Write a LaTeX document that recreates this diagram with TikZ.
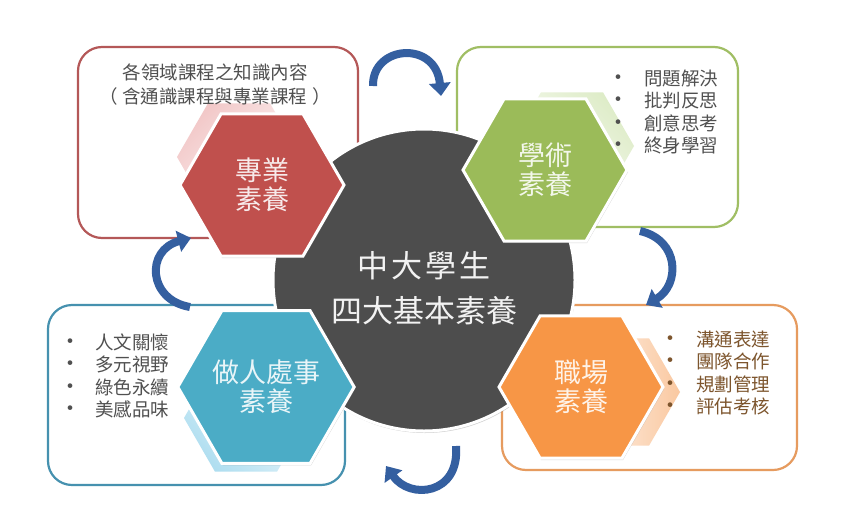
\documentclass[tikz,border=0pt]{standalone}
\usepackage{fontspec}
\setmainfont{Noto Sans CJK TC}
\usetikzlibrary{shapes.geometric,arrows.meta,shadows}
\definecolor{redM}{RGB}{192,80,77}
\definecolor{redB}{RGB}{180,88,88}
\definecolor{redL}{RGB}{242,200,200}
\definecolor{greenM}{RGB}{155,187,89}
\definecolor{greenB}{RGB}{160,190,100}
\definecolor{greenL}{RGB}{222,236,200}
\definecolor{blueM}{RGB}{75,172,198}
\definecolor{blueB}{RGB}{70,145,175}
\definecolor{blueL}{RGB}{175,222,240}
\definecolor{orangeM}{RGB}{247,150,70}
\definecolor{orangeB}{RGB}{230,155,95}
\definecolor{orangeL}{RGB}{250,200,160}
\definecolor{coreC}{RGB}{77,77,77}
\definecolor{arrowC}{RGB}{52,95,160}
\definecolor{txtG}{RGB}{80,80,80}
\definecolor{txtO}{RGB}{125,85,45}
\newcommand{\bulmark}[1]{\makebox[6pt][c]{\fontsize{22}{22.6}\selectfont•}\hspace{#1}}
\begin{document}
\begin{tikzpicture}[x=1pt,y=-1pt,
  boxS/.style={draw=#1, line width=2.2pt, rounded corners=24pt, fill=white},
  hexM/.style={regular polygon, regular polygon sides=6, minimum size=164pt, inner sep=0pt,
    fill=#1, draw=white, line width=3pt,
    drop shadow={opacity=0.3, shadow xshift=1pt, shadow yshift=-2pt},
    text=white!88!#1, align=center, font=\fontsize{27}{29}\selectfont},
  hexL/.style={regular polygon, regular polygon sides=6, minimum size=124pt, inner sep=0pt, draw=none},
  listS/.style={anchor=west, inner sep=0pt, align=left, font=\fontsize{18.5}{22.6}\selectfont},
  arrowS/.style={draw=arrowC, line width=8pt, -{Triangle[width=21pt,length=13pt]}}
]
\fill[white] (0,0) rectangle (850,527);
\useasboundingbox (0,0) rectangle (850,527);

% outer boxes
\draw[boxS=redB] (78,47) rectangle (358,238);
\draw[boxS=greenB] (457,47) rectangle (738,227);
\draw[boxS=blueB] (48,305) rectangle (345,485);
\draw[boxS=orangeB] (502,305) rectangle (797,470);

% light hexagons
\node[hexL, top color=redL, bottom color=white, shading angle=45] (lr) at (239,157) {};
\node[hexL, top color=greenL, bottom color=white, shading angle=-45] (lg) at (572,146) {};
\node[hexL, top color=white, bottom color=blueL, shading angle=-45] (lb) at (246,418) {};
\node[hexL, left color=white, right color=orangeL] (lo) at (618,392) {};

% core circle
\node[circle, minimum size=302pt, inner sep=0pt, fill=coreC, draw=white, line width=3pt,
  drop shadow={opacity=0.35, shadow xshift=1pt, shadow yshift=-2pt}] (core) at (424,280) {};
\node[text=white!95!black, align=center, font=\fontsize{31}{45}\selectfont] (title) at (424,288)
  {中\kern3pt 大\kern3pt 學\kern3pt 生\\四大基本素養};

% main hexagons
\node[hexM=redM] (hr) at (262,185) {專業\\素養};
\node[hexM=greenM] (hg) at (545,170) {學術\\素養};
\node[hexM=blueM] (hb) at (266,387) {做人處事\\素養};
\node[hexM=orangeM] (ho) at (581,387) {職場\\素養};

% texts
\node[text=txtG, align=center, font=\fontsize{18.5}{24}\selectfont] (rtxt) at (215,85)
  {各領域課程之知識內容\\（\hspace{5pt}含通識課程與專業課程\hspace{5pt}）};
\node[listS, text=txtG] (gl) at (615,112)
  {\bulmark{23pt}問題解決\\\bulmark{23pt}批判反思\\\bulmark{23pt}創意思考\\\bulmark{23pt}終身學習};
\node[listS, text=txtG] (bl) at (67,376)
  {\bulmark{22pt}人文關懷\\\bulmark{22pt}多元視野\\\bulmark{22pt}綠色永續\\\bulmark{22pt}美感品味};
\node[listS, text=txtO] (ol) at (667,373)
  {\bulmark{23pt}溝通表達\\\bulmark{23pt}團隊合作\\\bulmark{23pt}規劃管理\\\bulmark{23pt}評估考核};

% cycle arrows
\coordinate (a1s) at (373,86);  \coordinate (a1e) at (441,96);
\coordinate (a2s) at (640,231); \coordinate (a2e) at (646,305);
\coordinate (a3s) at (456,446); \coordinate (a3e) at (386,466);
\coordinate (a4s) at (190,307); \coordinate (a4e) at (191,238);
\draw[arrowS] (a1s) .. controls (372,45) and (436,40) .. (a1e);
\draw[arrowS] (a2s) .. controls (680,240) and (680,285) .. (a2e);
\draw[arrowS] (a3s) .. controls (460,495) and (410,500) .. (a3e);
\draw[arrowS] (a4s) .. controls (148,300) and (145,250) .. (a4e);
\end{tikzpicture}
\end{document}
